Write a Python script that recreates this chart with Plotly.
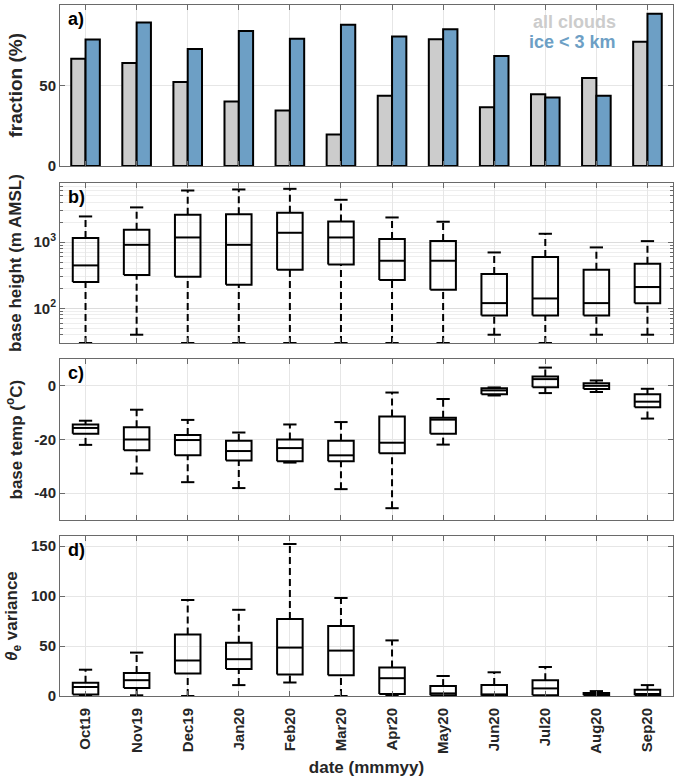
import math
import plotly.graph_objects as go

months = ["Oct19", "Nov19", "Dec19", "Jan20", "Feb20", "Mar20",
          "Apr20", "May20", "Jun20", "Jul20", "Aug20", "Sep20"]

# panel a: fractions (%)
frac_all = [66.6, 63.9, 52.1, 40.0, 34.4, 19.5, 43.6, 78.8, 36.5, 44.6, 54.6, 77.2]
frac_ice = [78.6, 89.2, 72.6, 83.8, 79.0, 87.8, 80.5, 84.9, 68.3, 42.5, 43.6, 94.6]

# panel b: cloud base height (m AMSL) box statistics
bh_lo = [30, 40, 30, 30, 30, 30, 30, 30, 40, 30, 40, 40]
bh_q1 = [250, 318, 300, 227, 383, 460, 267, 191, 78, 78, 78, 119]
bh_med = [445, 910, 1175, 910, 1383, 1175, 523, 523, 120, 141, 120, 210]
bh_q3 = [1150, 1535, 2580, 2640, 2770, 2050, 1110, 1035, 330, 594, 383, 471]
bh_hi = [2440, 3340, 6010, 6230, 6370, 4350, 2355, 2030, 698, 1336, 832, 1035]

# panel c: cloud base temperature (degC)
bt_lo = [-22.0, -32.7, -35.9, -38.1, -28.6, -38.5, -45.6, -21.9, -3.6, -2.7, -2.3, -12.2]
bt_q1 = [-17.9, -24.0, -25.9, -27.8, -28.1, -28.1, -25.1, -17.9, -3.1, -0.5, -1.2, -8.0]
bt_med = [-15.7, -20.0, -20.2, -24.3, -23.2, -25.9, -21.2, -12.6, -1.7, 2.5, 0.0, -5.9]
bt_q3 = [-14.4, -15.4, -18.3, -20.5, -20.0, -20.5, -11.4, -11.9, -0.9, 3.5, 1.0, -3.1]
bt_hi = [-13.0, -8.9, -12.7, -17.4, -14.4, -13.5, -2.5, -4.9, -0.6, 6.8, 2.0, -1.1]

# panel d: theta_e variance
tv_lo = [0, 0.7, 0, 10.9, 13.5, 0, 0.3, 0, 0, 0, 0, 0]
tv_q1 = [1.5, 7.9, 22.4, 27.0, 21.4, 20.7, 2.0, 0.7, 0.3, 0.7, 0.7, 0.7]
tv_med = [9.0, 15.8, 35.5, 36.8, 48.4, 45.4, 17.8, 2.6, 1.6, 7.6, 1.6, 2.0]
tv_q3 = [13.2, 23.0, 61.5, 53.3, 77.0, 70.0, 28.6, 9.9, 10.9, 15.8, 3.0, 6.2]
tv_hi = [26.3, 43.4, 96.0, 86.2, 152.0, 98.0, 55.6, 20.0, 23.7, 29.0, 4.9, 10.9]

xpos = list(range(1, len(months) + 1))

FONT = "Liberation Sans, Arial, sans-serif"
GRAY_BAR = "#cccccc"
BLUE_BAR = "#6d9fc5"
AXCOL = "#6a6a6a"
GRID = "#e6e6e6"
TXT = "#262626"

fig = go.Figure()

# ---- panel a bars
fig.add_trace(go.Bar(x=xpos, y=frac_all, marker=dict(color=GRAY_BAR, line=dict(color="black", width=2)),
                     xaxis="x", yaxis="y", showlegend=False, name="all clouds"))
fig.add_trace(go.Bar(x=xpos, y=frac_ice, marker=dict(color=BLUE_BAR, line=dict(color="black", width=2)),
                     xaxis="x", yaxis="y", showlegend=False, name="ice < 3 km"))


def add_boxes(xa, ya, lo, q1, med, q3, hi, hw=0.25, cw=0.13):
    bx, by, mx, my, wx, wy, cx, cy = [], [], [], [], [], [], [], []
    for x, a, b, c, d, e in zip(xpos, lo, q1, med, q3, hi):
        bx += [x - hw, x + hw, x + hw, x - hw, x - hw, None]
        by += [b, b, d, d, b, None]
        mx += [x - hw, x + hw, None]
        my += [c, c, None]
        wx += [x, x, None, x, x, None]
        wy += [a, b, None, d, e, None]
        cx += [x - cw, x + cw, None, x - cw, x + cw, None]
        cy += [a, a, None, e, e, None]
    common = dict(xaxis=xa, yaxis=ya, mode="lines", showlegend=False, hoverinfo="skip")
    fig.add_trace(go.Scatter(x=wx, y=wy, line=dict(color="black", width=2, dash="7px,4px"), **common))
    fig.add_trace(go.Scatter(x=cx, y=cy, line=dict(color="black", width=2), **common))
    fig.add_trace(go.Scatter(x=bx, y=by, line=dict(color="black", width=2), **common))
    fig.add_trace(go.Scatter(x=mx, y=my, line=dict(color="black", width=2), **common))


add_boxes("x2", "y2", bh_lo, bh_q1, bh_med, bh_q3, bh_hi)
add_boxes("x3", "y3", bt_lo, bt_q1, bt_med, bt_q3, bt_hi)
add_boxes("x4", "y4", tv_lo, tv_q1, tv_med, tv_q3, tv_hi)

# layout geometry
W, H = 675, 780
ml, mr, mt, mb = 60, 2, 5, 84
ph = H - mt - mb
pw = W - ml - mr
def dom(top_px, bot_px):
    return [(H - mb - bot_px) / ph, (H - mb - top_px) / ph]

doms = [dom(5, 166), dom(183, 343), dom(359, 520), dom(536, 696)]

tickfont = dict(family=FONT, size=15, color=TXT)
titlefont = dict(family=FONT, size=17, color=TXT)

def xaxis_cfg(anchor, labels):
    return dict(domain=[0, 1], anchor=anchor, range=[0.5, 12.5], tickmode="array", tickvals=xpos,
                ticktext=["<b>%s</b>" % m for m in months], showticklabels=labels, tickangle=-90,
                tickfont=tickfont, ticklabelstandoff=5,
                showline=True, mirror="ticks", linecolor=AXCOL, linewidth=1,
                ticks="inside", ticklen=5, tickcolor=AXCOL,
                showgrid=True, gridcolor=GRID, gridwidth=1, zeroline=False, fixedrange=True)

def yaxis_cfg(anchor, d, **kw):
    cfg = dict(domain=d, anchor=anchor,
               tickfont=tickfont, showline=True, mirror="ticks", linecolor=AXCOL, linewidth=1,
               ticks="inside", ticklen=5, tickcolor=AXCOL,
               showgrid=True, gridcolor=GRID, gridwidth=1, zeroline=False, fixedrange=True)
    cfg.update(kw)
    return cfg

minor_vals = [m * 10 ** k for k in (1, 2, 3) for m in range(2, 10) if 30 <= m * 10 ** k <= 9000]

fig.update_layout(
    width=W, height=H,
    margin=dict(l=ml, r=mr, t=mt, b=mb),
    paper_bgcolor="white", plot_bgcolor="white",
    barmode="group", bargap=0.44, bargroupgap=0.0,
    font=dict(family=FONT, color=TXT),
    xaxis=xaxis_cfg("y", False),
    xaxis2=xaxis_cfg("y2", False),
    xaxis3=xaxis_cfg("y3", False),
    xaxis4=dict(xaxis_cfg("y4", True),
                title=dict(text="<b>date (mmmyy)</b>", font=titlefont, standoff=8)),
    yaxis=yaxis_cfg("x", doms[0], range=[0, 100], tickvals=[0, 50, 100],
                    ticktext=["<b>0</b>", "<b>50</b>", "<b>100</b>"]),
    yaxis2=yaxis_cfg("x2", doms[1], type="log",
                     range=[math.log10(30), math.log10(7800)], tickvals=[100, 1000],
                     ticktext=["<b>10<sup>2</sup></b>", "<b>10<sup>3</sup></b>"],
                     gridcolor="#dcdcdc",
                     minor=dict(tickvals=minor_vals, ticks="inside", ticklen=3, tickcolor=AXCOL,
                                showgrid=True, gridcolor="#eeeeee")),
    yaxis3=yaxis_cfg("x3", doms[2], range=[-50, 10],
                     tickvals=[-40, -20, 0], ticktext=["<b>-40</b>", "<b>-20</b>", "<b>0</b>"]),
    yaxis4=yaxis_cfg("x4", doms[3], range=[0, 160],
                     tickvals=[0, 50, 100, 150],
                     ticktext=["<b>0</b>", "<b>50</b>", "<b>100</b>", "<b>150</b>"]),
)

annots = []
# y-axis titles (rotated)
ytitles = [("<b>fraction (%)</b>", 19, 15), ("<b>base height (m AMSL)</b>", 17, 15),
           ("<b>base temp (<sup>o</sup>C)</b>", 17, 15), ("<b><i>θ</i><sub>e</sub> variance</b>", 17, 13)]
for i, (t, sz, xc) in enumerate(ytitles):
    sfx = "" if i == 0 else str(i + 1)
    annots.append(dict(text=t, xref="paper", yref="y%s domain" % sfx, x=(xc - ml) / pw, y=0.5,
                       xanchor="center", yanchor="middle", textangle=-90, showarrow=False,
                       font=dict(family=FONT, size=sz, color=TXT)))
for i, lab in enumerate(["a)", "b)", "c)", "d)"]):
    sfx = "" if i == 0 else str(i + 1)
    annots.append(dict(text="<b>%s</b>" % lab, xref="x%s domain" % sfx, yref="y%s domain" % sfx,
                       x=0.01, y=0.985, xanchor="left", yanchor="top", showarrow=False,
                       font=dict(family=FONT, size=18, color="black")))
annots.append(dict(text="<b>all clouds</b>", xref="x domain", yref="y domain", x=0.91, y=0.895,
                   xanchor="right", yanchor="middle", showarrow=False,
                   font=dict(family=FONT, size=18, color=GRAY_BAR)))
annots.append(dict(text="<b>ice < 3 km</b>", xref="x domain", yref="y domain", x=0.91, y=0.77,
                   xanchor="right", yanchor="middle", showarrow=False,
                   font=dict(family=FONT, size=18, color=BLUE_BAR)))
fig.update_layout(annotations=annots)

fig.write_html("out.html", config={"displayModeBar": False},
               post_script="document.body.style.margin='0px';document.body.style.overflow='hidden';")
